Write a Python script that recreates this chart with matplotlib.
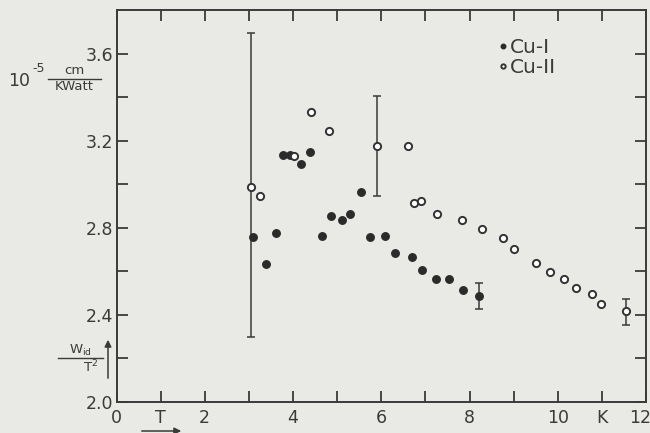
import matplotlib
matplotlib.use("Agg")
import matplotlib.pyplot as plt
import matplotlib.transforms as mtransforms
import numpy as np

# ---- data ----
cu1_x = [3.10, 3.38, 3.61, 3.78, 3.94, 4.19, 4.38, 4.66, 4.87, 5.10, 5.30,
         5.55, 5.74, 6.08, 6.31, 6.69, 6.93, 7.24, 7.54, 7.86, 8.22]
cu1_y = [2.757, 2.635, 2.776, 3.135, 3.135, 3.093, 3.147, 2.762, 2.855, 2.834, 2.864,
         2.963, 2.757, 2.762, 2.686, 2.666, 2.608, 2.567, 2.567, 2.516, 2.486]
cu2_x = [3.05, 3.25, 4.03, 4.41, 4.82, 5.91, 6.61, 6.75, 6.91, 7.27, 7.84,
         8.28, 8.76, 9.00, 9.50, 9.82, 10.14, 10.42, 10.78, 10.99, 11.54]
cu2_y = [2.986, 2.945, 3.128, 3.333, 3.246, 3.174, 3.177, 2.913, 2.922, 2.865, 2.837,
         2.796, 2.754, 2.701, 2.638, 2.597, 2.567, 2.525, 2.498, 2.448, 2.418]

cu1_err_x = [8.22]
cu1_err_y = [2.486]
cu1_err_lo = [0.06]
cu1_err_hi = [0.062]

cu2_err_x = [3.05, 5.91, 11.54]
cu2_err_y = [2.986, 3.174, 2.418]
cu2_err_lo = [0.686, 0.226, 0.065]
cu2_err_hi = [0.710, 0.229, 0.057]

x_ticks = list(range(0, 13))
x_labels = ["0", "T", "2", "", "4", "", "6", "", "8", "", "10", "K", "12"]
y_ticks = [2.0, 2.2, 2.4, 2.6, 2.8, 3.0, 3.2, 3.4, 3.6]
y_labels = ["2.0", "", "2.4", "", "2.8", "", "3.2", "", "3.6"]
series_labels = ["Cu-I", "Cu-II"]

# ---- style ----
bg = "#e9e9e5"
ink = "#3a3a3a"
W, H = 650, 433

fig = plt.figure(figsize=(6.5, 4.33), dpi=100, facecolor=bg)
ax = fig.add_axes([116.5 / W, 1 - 402 / H, (646 - 116.5) / W, (402 - 10) / H])
ax.set_facecolor(bg)
ax.set_xlim(0, 12)
ax.set_ylim(2.0, 3.8)

for s in ax.spines.values():
    s.set_color(ink)
    s.set_linewidth(1.4)

ax.set_xticks(x_ticks)
ax.set_xticklabels(x_labels)
ax.set_yticks(y_ticks)
ax.set_yticklabels(y_labels)
ax.tick_params(axis="both", direction="in", length=8, width=1.3, color=ink,
               labelcolor=ink, labelsize=12.5, top=True, right=True)
ax.tick_params(axis="x", pad=5)
ax.tick_params(axis="y", pad=2.5)

# keep the last x label ("12") inside the figure
last = ax.get_xticklabels()[-1]
last.set_transform(last.get_transform() +
                   mtransforms.ScaledTranslation(-6 / 100, 0, fig.dpi_scale_trans))

# error bars
ax.errorbar(cu2_err_x, cu2_err_y, yerr=[cu2_err_lo, cu2_err_hi], fmt="none",
            ecolor=ink, elinewidth=1.1, capsize=3, capthick=1.1, zorder=2)
ax.errorbar(cu1_err_x, cu1_err_y, yerr=[cu1_err_lo, cu1_err_hi], fmt="none",
            ecolor=ink, elinewidth=1.1, capsize=3, capthick=1.1, zorder=2)

ax.plot(cu1_x, cu1_y, "o", ms=5.4, color="#2b2b2b", mec="#2b2b2b", zorder=3,
        label=series_labels[0])
ax.plot(cu2_x, cu2_y, "o", ms=5.2, mfc="white", mec="#333333", mew=1.4, zorder=3,
        label=series_labels[1])

leg = ax.legend(loc="upper left", bbox_to_anchor=(0.703, 0.955), frameon=False,
                fontsize=14.5, handlelength=0.4, handletextpad=0.15,
                labelspacing=0.05, markerscale=0.6, borderpad=0)
for t in leg.get_texts():
    t.set_color(ink)


def fx(px):
    return px / W


def fy(py):
    return 1 - py / H


# y-axis unit label
fig.text(fx(8), fy(81), "10", fontsize=12.5, color=ink, ha="left", va="center")
fig.text(fx(32), fy(69), "-5", fontsize=9, color=ink, ha="left", va="center")
fig.text(fx(74), fy(71), "cm", fontsize=9.5, color=ink, ha="center", va="center")
fig.add_artist(plt.Line2D([fx(48), fx(101)], [fy(78.5), fy(78.5)], color=ink, lw=1.0))
fig.text(fx(74), fy(86.5), "KWatt", fontsize=9.5, color=ink, ha="center", va="center")

# W_id / T^2 label with arrow
fig.text(fx(80), fy(350), r"W$_{\mathrm{id}}$", fontsize=9.5, color=ink,
         ha="center", va="center")
fig.add_artist(plt.Line2D([fx(58), fx(103)], [fy(358), fy(358)], color=ink, lw=1.0))
fig.text(fx(91), fy(367), r"T$^{2}$", fontsize=9.5, color=ink, ha="center", va="center")
ax.annotate("", xy=(fx(108), fy(337)), xycoords="figure fraction",
            xytext=(fx(108), fy(381)), textcoords="figure fraction",
            arrowprops=dict(arrowstyle="-|>", color=ink, lw=1.1, mutation_scale=10),
            annotation_clip=False)

# T arrow under x axis
ax.annotate("", xy=(fx(184), fy(431)), xycoords="figure fraction",
            xytext=(fx(139), fy(431)), textcoords="figure fraction",
            arrowprops=dict(arrowstyle="-|>", color=ink, lw=1.1, mutation_scale=10),
            annotation_clip=False)

fig.savefig("out.png", dpi=100, facecolor=bg)
